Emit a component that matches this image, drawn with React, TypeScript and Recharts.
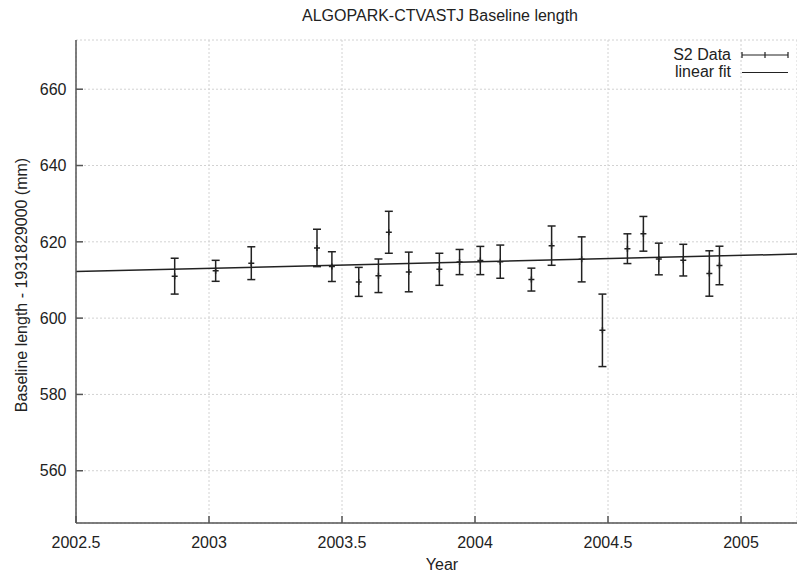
import React from 'react';
import { ComposedChart, XAxis, YAxis, CartesianGrid, Scatter, Line, ErrorBar } from 'recharts';

const years = [2002.871, 2003.025, 2003.159, 2003.406, 2003.462, 2003.563, 2003.637, 2003.676, 2003.751, 2003.866, 2003.942, 2004.020, 2004.095, 2004.212, 2004.288, 2004.401, 2004.479, 2004.573, 2004.633, 2004.691, 2004.783, 2004.881, 2004.919];
const values = [611.0, 612.4, 614.4, 618.4, 613.5, 609.5, 611.1, 622.5, 612.1, 612.8, 614.7, 615.1, 614.8, 610.1, 619.0, 615.4, 596.8, 618.2, 622.1, 615.5, 615.2, 611.7, 613.8];
const errors = [4.7, 2.75, 4.3, 4.9, 3.9, 3.8, 4.4, 5.5, 5.2, 4.2, 3.3, 3.7, 4.35, 3.0, 5.15, 5.9, 9.5, 3.9, 4.55, 4.15, 4.15, 5.95, 5.05];
const fitYears = [2002.5, 2005.2105];
const fitValues = [612.2, 616.8];
const xTicks = [2002.5, 2003, 2003.5, 2004, 2004.5, 2005];
const yTicks = [560, 580, 600, 620, 640, 660];
const xDomain = [2002.5, 2005.2105];
const yDomain = [546.3, 672.9];

const scatterData = years.map((y, i) => ({ year: y, value: values[i], err: errors[i] }));
const fitData = fitYears.map((y, i) => ({ year: y, fit: fitValues[i] }));

const FONT = '"Liberation Sans", Arial, Helvetica, sans-serif';
const FS = 16;
const AXIS = '#555';
const INK = '#222';

const BottomTick = (props: any) => {
  const { x, y, payload } = props;
  return (
    <g>
      <line x1={x} x2={x} y1={y} y2={y - 7} stroke={AXIS} strokeWidth={1.5} />
      <text x={x} y={y + 24.5} textAnchor="middle" fontFamily={FONT} fontSize={FS} fill={INK}>
        {String(payload.value)}
      </text>
    </g>
  );
};

const TopTick = (props: any) => {
  const { x, y } = props;
  return <line x1={x} x2={x} y1={y} y2={y + 7} stroke={AXIS} strokeWidth={1.5} />;
};

const LeftTick = (props: any) => {
  const { x, y, payload } = props;
  return (
    <g>
      <line x1={x} x2={x + 7} y1={y} y2={y} stroke={AXIS} strokeWidth={1.5} />
      <text x={x - 9.5} y={y + 5.7} textAnchor="end" fontFamily={FONT} fontSize={FS} fill={INK}>
        {String(payload.value)}
      </text>
    </g>
  );
};

const PlusShape = (props: any) => {
  const { cx, cy } = props;
  return <path d={`M${cx - 3},${cy}h6M${cx},${cy - 3}v6`} stroke={INK} strokeWidth={1.5} fill="none" />;
};

export default function App() {
  return (
    <div style={{ position: 'absolute', left: 0, top: 0, width: 797, height: 573, background: '#fff', overflow: 'hidden' }}>
      <ComposedChart width={797} height={573} margin={{ top: 40, right: 0, bottom: 0, left: 0 }}>
        <CartesianGrid stroke="#d2d2d2" strokeDasharray="2 2" strokeWidth={1} />
        <XAxis
          dataKey="year"
          type="number"
          domain={xDomain}
          allowDataOverflow
          ticks={xTicks}
          interval={0}
          height={50}
          tickSize={0}
          tickMargin={0}
          tickLine={false}
          tick={<BottomTick />}
          axisLine={{ stroke: AXIS, strokeWidth: 1.5 }}
        />
        <XAxis
          xAxisId="top"
          orientation="top"
          dataKey="year"
          type="number"
          domain={xDomain}
          allowDataOverflow
          ticks={xTicks}
          interval={0}
          height={0}
          tickSize={0}
          tickMargin={0}
          tickLine={false}
          tick={<TopTick />}
          axisLine={{ stroke: AXIS, strokeWidth: 1.5 }}
        />
        <YAxis
          type="number"
          domain={yDomain}
          allowDataOverflow
          ticks={yTicks}
          interval={0}
          width={76}
          tickSize={0}
          tickMargin={0}
          tickLine={false}
          tick={<LeftTick />}
          axisLine={{ stroke: AXIS, strokeWidth: 1.5 }}
        />
        <Line
          data={fitData}
          dataKey="fit"
          type="linear"
          stroke={INK}
          strokeWidth={1.5}
          dot={false}
          activeDot={false}
          isAnimationActive={false}
        />
        <Scatter data={scatterData} dataKey="value" shape={<PlusShape />} isAnimationActive={false}>
          <ErrorBar dataKey="err" direction="y" width={4} stroke={INK} strokeWidth={1.5} isAnimationActive={false} />
        </Scatter>
      </ComposedChart>
      <svg width={797} height={573} style={{ position: 'absolute', left: 0, top: 0, pointerEvents: 'none' }}>
        <text x={440} y={20.5} textAnchor="middle" fontFamily={FONT} fontSize={FS} fill={INK}>
          ALGOPARK-CTVASTJ Baseline length
        </text>
        <text x={442} y={570} textAnchor="middle" fontFamily={FONT} fontSize={FS} fill={INK}>
          Year
        </text>
        <text
          x={0}
          y={0}
          transform="translate(26.5,285) rotate(-90)"
          textAnchor="middle"
          fontFamily={FONT}
          fontSize={FS}
          fill={INK}
        >
          Baseline length - 1931829000 (mm)
        </text>
        <text x={731} y={60} textAnchor="end" fontFamily={FONT} fontSize={FS} fill={INK}>
          S2 Data
        </text>
        <path d="M742,55H788M742,52V58M788,52V58M765,52V58" stroke={INK} strokeWidth={1.2} fill="none" />
        <text x={731} y={77} textAnchor="end" fontFamily={FONT} fontSize={FS} fill={INK}>
          linear fit
        </text>
        <path d="M742,72.5H788" stroke={INK} strokeWidth={1.2} fill="none" />
      </svg>
    </div>
  );
}
